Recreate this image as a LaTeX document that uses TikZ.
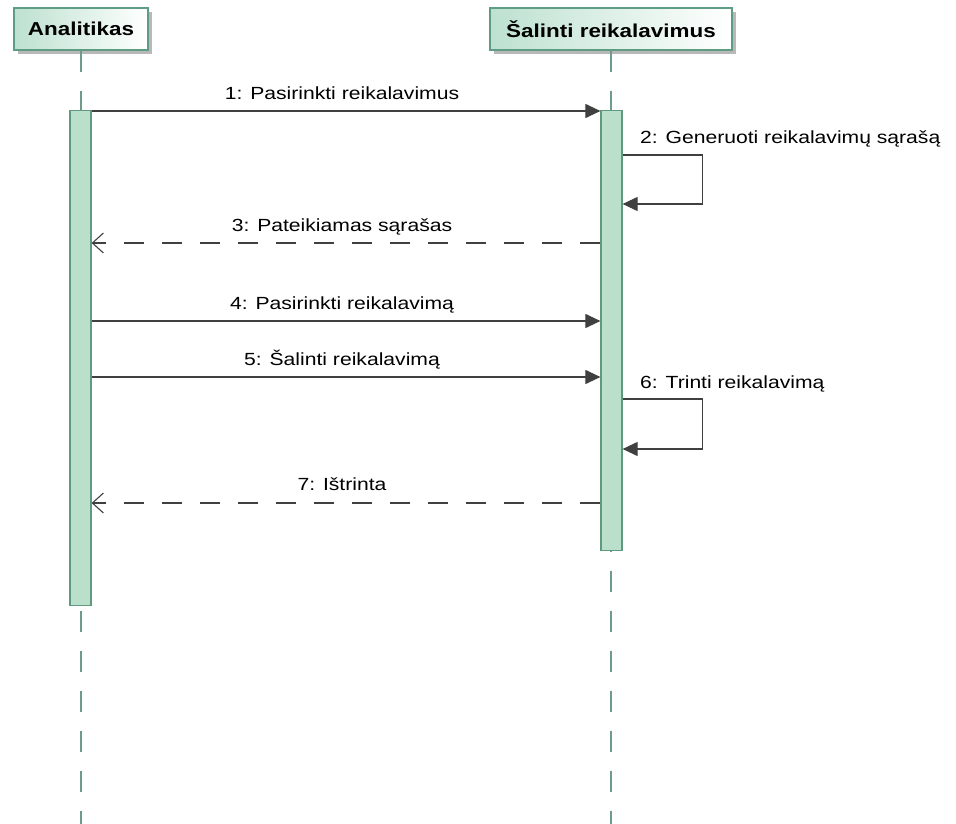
\documentclass[tikz,border=0pt]{standalone}
\usepackage{fontspec}
\setmainfont[FakeStretch=1.2]{Liberation Sans}
\usetikzlibrary{arrows.meta,shadows,calc}
\definecolor{hdrfill}{HTML}{BDE1D0}
\definecolor{hdrdraw}{HTML}{5E9C84}
\definecolor{barfill}{HTML}{BAE0CC}
\definecolor{bardraw}{HTML}{5F9A80}
\definecolor{lifecol}{HTML}{6E9C8A}
\definecolor{msgcol}{HTML}{404040}
\begin{document}
\begin{tikzpicture}[x=1pt,y=-1pt,
  header/.style={draw=hdrdraw, line width=1.2pt, left color=hdrfill, right color=white,
    minimum height=42pt, inner sep=0pt, font=\fontsize{18.7}{22}\selectfont\bfseries,
    drop shadow={shadow xshift=4pt, shadow yshift=-4pt, fill=black!28, opacity=1}},
  bar/.style={draw=bardraw, fill=barfill, line width=1.2pt, minimum width=21pt, inner sep=0pt, anchor=north},
  lifeline/.style={draw=lifecol, line width=1.2pt, dash pattern=on 21pt off 19pt},
  msg/.style={draw=msgcol, line width=1.1pt, -{Triangle[length=15pt,width=14pt]}},
  ret/.style={draw=msgcol, line width=1.1pt, dash pattern=on 20pt off 18pt, -{Straight Barb[length=11pt,width=20pt]}},
  lbl/.style={font=\fontsize{17.6}{20}\selectfont, text=black, inner sep=0pt}
]
\useasboundingbox (0,0) rectangle (956,824);

% headers
\node[header, minimum width=134pt] (hA) at (81,29) {Analitikas};
\node[header, minimum width=242pt] (hB) at (611,29) {Šalinti reikalavimus};

% lifelines
\coordinate (bottom) at (0,824);
\draw[lifeline] (hA.south) -- (hA.south |- bottom);
\draw[lifeline] (hB.south) -- (hB.south |- bottom);

% activation bars
\node[bar, minimum height=495pt] (bA) at (80.5,110) {};
\node[bar, minimum height=440pt] (bB) at (611.5,110) {};

% message rows
\coordinate (y1) at (0,111);
\coordinate (y2a) at (0,155);
\coordinate (y2b) at (0,204);
\coordinate (y3) at (0,243);
\coordinate (y4) at (0,321);
\coordinate (y5) at (0,377);
\coordinate (y6a) at (0,399);
\coordinate (y6b) at (0,449);
\coordinate (y7) at (0,503);

\draw[msg] (bA.east |- y1) -- (bB.west |- y1);
\draw[msg] (bB.east |- y2a) -- ++(80,0) |- (bB.east |- y2b);
\draw[ret] (bB.west |- y3) -- (bA.east |- y3);
\draw[msg] (bA.east |- y4) -- (bB.west |- y4);
\draw[msg] (bA.east |- y5) -- (bB.west |- y5);
\draw[msg] (bB.east |- y6a) -- ++(80,0) |- (bB.east |- y6b);
\draw[ret] (bB.west |- y7) -- (bA.east |- y7);

% labels
\node[lbl, anchor=base] (l1) at (342,99.5) {1: Pasirinkti reikalavimus};
\node[lbl, anchor=base west] (l2) at (640,143) {2: Generuoti reikalavimų sąrašą};
\node[lbl, anchor=base] (l3) at (342,231.5) {3: Pateikiamas sąrašas};
\node[lbl, anchor=base] (l4) at (342,309.5) {4: Pasirinkti reikalavimą};
\node[lbl, anchor=base] (l5) at (342,365.5) {5: Šalinti reikalavimą};
\node[lbl, anchor=base west] (l6) at (640,388) {6: Trinti reikalavimą};
\node[lbl, anchor=base] (l7) at (342,490.5) {7: Ištrinta};
\end{tikzpicture}
\end{document}
